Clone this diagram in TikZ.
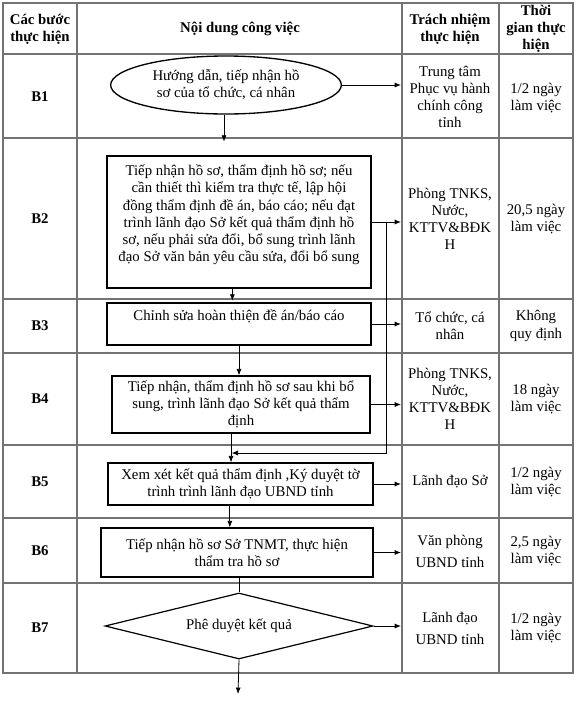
\documentclass[tikz,border=0pt]{standalone}
\usepackage{fontspec}
\setmainfont{Liberation Serif}
\usetikzlibrary{arrows.meta,shapes.geometric}

\begin{document}
\begin{tikzpicture}[
  x=0.75pt,y=-0.75pt,
  font=\fontsize{11.1}{12.9}\selectfont,
  grid/.style={draw=black!55,line width=0.9pt},
  head/.style={align=center,font=\fontsize{11.1}{12.9}\selectfont\bfseries},
  stepno/.style={font=\fontsize{11.1}{12.9}\selectfont\bfseries},
  cell/.style={align=center,inner sep=0pt},
  stepbox/.style={draw=black,line width=1pt,align=center,inner sep=0pt},
  startbox/.style={draw=black,line width=1pt,ellipse,align=center,inner sep=0pt},
  decide/.style={draw=black,line width=0.9pt,diamond,aspect=4,inner sep=0pt},
  arr/.style={draw=black,line width=0.6pt,-{Latex[length=4.8pt,width=3.8pt]}},
  ln/.style={draw=black,line width=0.6pt}
]
\useasboundingbox (0,0) rectangle (576,701);

% table
\draw[grid] (3,3) rectangle (573,673);
\foreach \x in {77,402,499}{\draw[grid] (\x,3) -- (\x,673);}
\foreach \y in {54,138,299,353,445,518,583}{\draw[grid] (3,\y) -- (573,\y);}

% header
\node[head] (h1) at (40,29) {Các bước\\thực hiện};
\node[head] (h2) at (240,29) {Nội dung công việc};
\node[head] (h3) at (450,29) {Trách nhiệm\\thực hiện};
\node[head] (h4) at (536,29) {Thời\\gian thực\\hiện};

% step numbers
\foreach \i/\y in {1/97,2/219,3/326,4/399,5/482,6/551,7/628}{
  \node[stepno] (s\i) at (40,\y) {B\i};}

% flow
\node[startbox,minimum width=173pt,minimum height=43.5pt] (e) at (226,85)
  {Hướng dẫn, tiếp nhận hồ\\sơ của tổ chức, cá nhân};
\node[stepbox,minimum width=198pt,minimum height=99pt] (b2) at (239,222)
  {Tiếp nhận hồ sơ, thẩm định hồ sơ; nếu\\cần thiết thì kiểm tra thực tế, lập hội\\đồng thẩm định đề án, báo cáo; nếu đạt\\trình lãnh đạo Sở kết quả thẩm định hồ\\sơ, nếu phải sửa đổi, bổ sung trình lãnh\\đạo Sở văn bản yêu cầu sửa, đổi bổ sung\\ \mbox{}};
\node[stepbox,minimum width=198pt,minimum height=31.5pt] (b3) at (239,324)
  {Chỉnh sửa hoàn thiện đề án/báo cáo\\ \mbox{}};
\node[stepbox,minimum width=193.5pt,minimum height=42.75pt] (b4) at (241,404.5)
  {Tiếp nhận, thẩm định hồ sơ sau khi bổ\\sung, trình lãnh đạo Sở kết quả thẩm\\định};
\node[stepbox,minimum width=198.75pt,minimum height=31.5pt] (b5) at (240.5,484)
  {Xem xét kết quả thẩm định ,Ký duyệt tờ\\trình trình lãnh đạo UBND tỉnh};
\node[stepbox,minimum width=204pt,minimum height=36.75pt] (b6) at (237,552.5)
  {Tiếp nhận hồ sơ Sở TNMT, thực hiện\\thẩm tra hồ sơ};
\node[decide,minimum width=201pt,minimum height=49.5pt] (d) at (239,626)
  {Phê duyệt kết quả};

% responsibility / time
\node[cell] (r1) at (450,97) {Trung tâm\\Phục vụ hành\\chính công\\tỉnh};
\node[cell] (r2) at (450,219) {Phòng TNKS,\\Nước,\\KTTV\&BĐK\\H};
\node[cell] (r3) at (450,326) {Tổ chức, cá\\nhân};
\node[cell] (r4) at (450,399) {Phòng TNKS,\\Nước,\\KTTV\&BĐK\\H};
\node[cell] (r5) at (450,482) {Lãnh đạo Sở};
\node[cell,font=\fontsize{11.1}{16.5}\selectfont] (r6) at (450,551) {Văn phòng\\UBND tỉnh};
\node[cell,font=\fontsize{11.1}{16.5}\selectfont] (r7) at (450,628) {Lãnh đạo\\UBND tỉnh};
\node[cell] (t1) at (536,98) {1/2 ngày\\làm việc};
\node[cell] (t2) at (536,219) {20,5 ngày\\làm việc};
\node[cell] (t3) at (536,326) {Không\\quy định};
\node[cell] (t4) at (536,399) {18 ngày\\làm việc};
\node[cell] (t5) at (536,482) {1/2 ngày\\làm việc};
\node[cell] (t6) at (536,551) {2,5 ngày\\làm việc};
\node[cell] (t7) at (536,628) {1/2 ngày\\làm việc};

% connectors
\coordinate (col) at (401,0);
\coordinate (fb) at (386,453);
\coordinate (out) at (238,694);
\foreach \n in {e,b2,b3,b4,b5,b6,d}{\draw[arr] (\n.east) -- (\n.east -| col);}
\draw[arr] ([xshift=-1.5pt]e.south) -- ++(0,27);
\draw[arr] ([xshift=-5pt]b2.south) -- ++(0,12);
\draw[arr] (b3.south) -- (b3.south |- b4.north);
\draw[arr] ([xshift=-7.5pt]b4.south) -- ([xshift=-7.5pt]b4.south |- b5.north);
\draw[arr] ([xshift=-8pt]b5.south) -- ([xshift=-8pt]b5.south |- b6.north);
\draw[ln] (b6.south -| d.north) -- (d.north);
\draw[arr] (d.south) -- (out);
\draw[arr] (b2.east -| fb) -- (fb) -- ([xshift=-7pt]fb -| b4.south);
\end{tikzpicture}
\end{document}
